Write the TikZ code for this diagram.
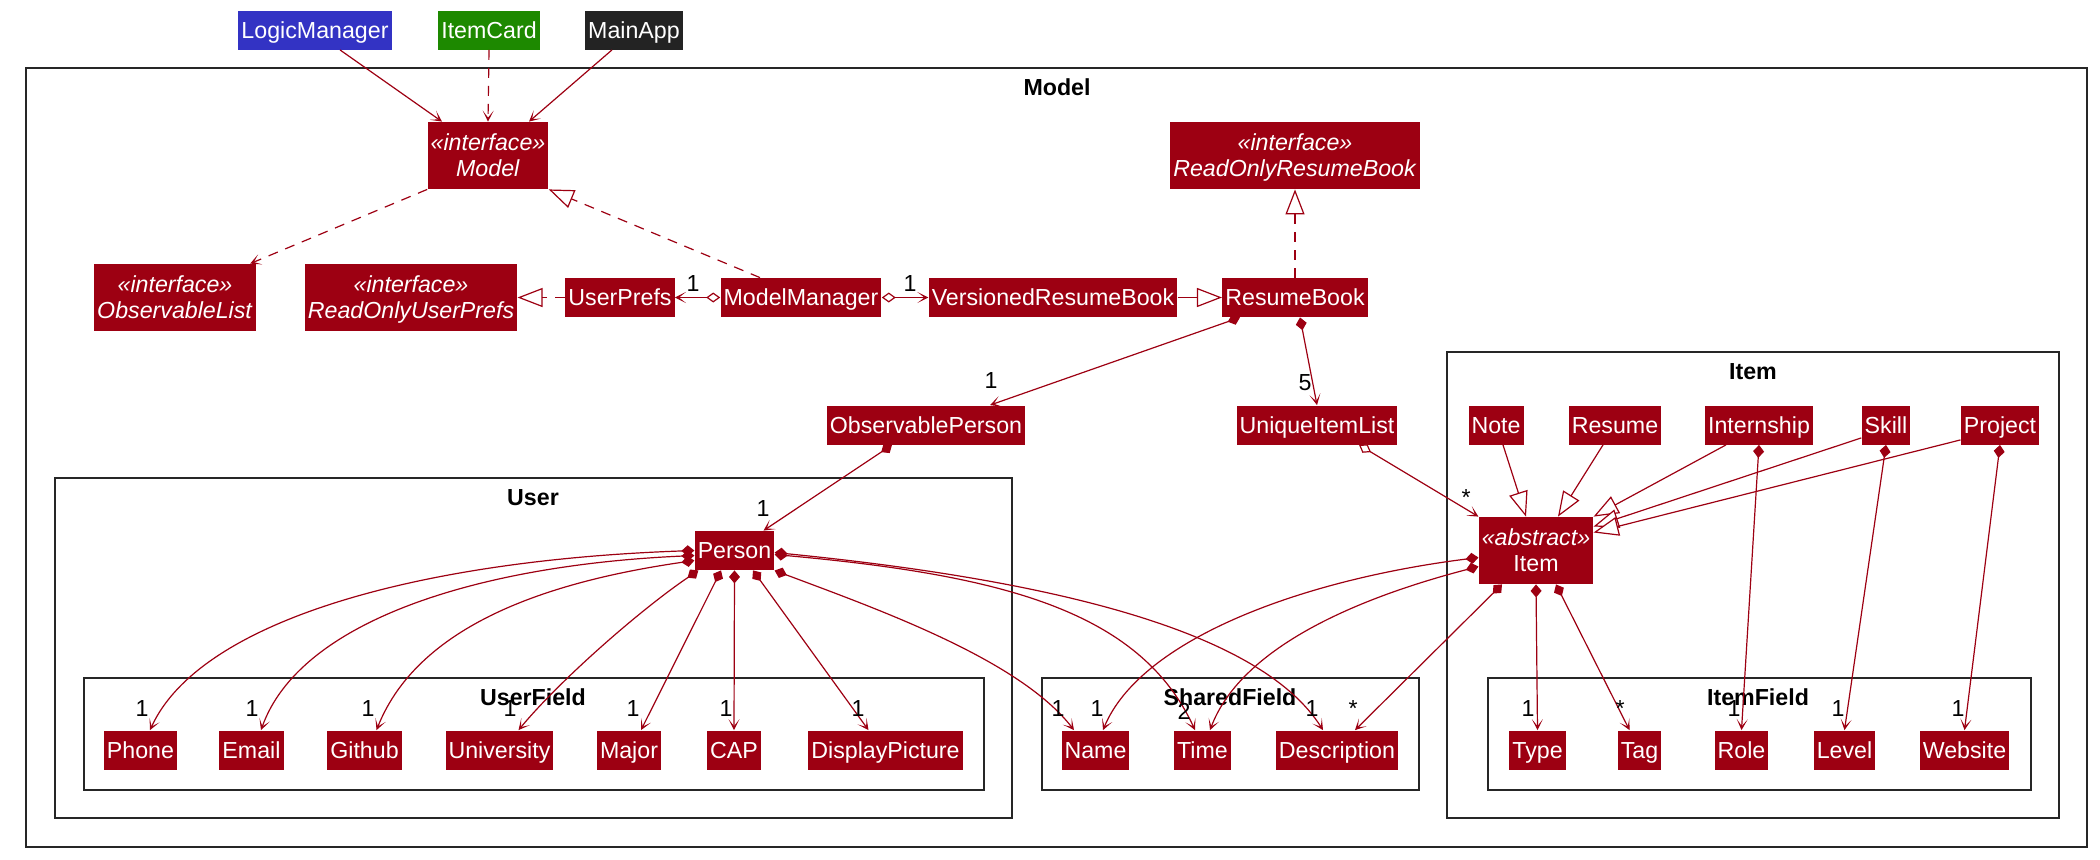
\documentclass[tikz,border=0pt]{standalone}
\usepackage{fontspec}
\setmainfont{Liberation Sans}
\usetikzlibrary{arrows.meta}
\definecolor{modelred}{HTML}{9D0012}
\definecolor{logicblue}{HTML}{3333C4}
\definecolor{uigreen}{HTML}{1D8900}
\definecolor{appgrey}{HTML}{232323}
\newcommand{\stereo}[2]{\begin{tabular}[t]{@{}c@{}}\textit{«#1»}\\#2\end{tabular}}

\begin{document}
\begin{tikzpicture}[x=0.5pt, y=-0.5pt,
    every node/.style={font=\fontsize{11.6}{13}\selectfont},
    cls/.style={fill=modelred, text=white, inner xsep=1.5pt, inner ysep=0pt, minimum height=19.5pt, text height=8.35pt, text depth=0pt},
    iface/.style={cls, minimum height=33.5pt, text depth=13pt},
    outside/.style={cls, fill=#1},
    title/.style={font=\fontsize{11.6}{13}\selectfont\bfseries, anchor=base, inner sep=0pt},
    mult/.style={anchor=base, inner sep=0pt},
    frame/.style={draw=black!85, line width=0.75pt},
    link/.style={draw=modelred, line width=0.6pt},
    assoc/.style={link, -{Stealth[length=5.5pt, width=5.5pt, inset=3.5pt]}},
    dep/.style={assoc, dash pattern=on 5pt off 4pt},
    comp/.style={link, {Diamond[length=6.5pt, width=5.5pt]}-{Stealth[length=5.5pt, width=5.5pt, inset=3.5pt]}},
    aggr/.style={link, {Diamond[open, fill=white, length=7pt, width=5pt]}-{Stealth[length=5.5pt, width=5.5pt, inset=3.5pt]}},
    inherit/.style={link, -{Triangle[open, fill=white, length=12.5pt, width=9.5pt]}},
    realize/.style={inherit, dash pattern=on 5pt off 4pt}]
    \useasboundingbox (0,0) rectangle (2100,859);

    \node[outside=logicblue] (logic) at (315,30) {LogicManager};
    \node[outside=uigreen] (itemcard) at (489,30) {ItemCard};
    \node[outside=appgrey] (mainapp) at (634,30) {MainApp};

    \draw[frame] (26,68) rectangle (2087,847);
    \node[title] (modeltitle) at (1057,95) {Model};

    \node[iface] (model) at (488,155.5) {\stereo{interface}{\textit{Model}}};
    \node[iface] (robook) at (1295,155.5) {\stereo{interface}{\textit{ReadOnlyResumeBook}}};
    \node[iface] (obslist) at (175,297.5) {\stereo{interface}{\textit{ObservableList}}};
    \node[iface] (roprefs) at (411,297.5) {\stereo{interface}{\textit{ReadOnlyUserPrefs}}};
    \node[cls] (prefs) at (620,297.5) {UserPrefs};
    \node[cls] (manager) at (801,297.5) {ModelManager};
    \node[cls] (versioned) at (1053,297.5) {VersionedResumeBook};
    \node[cls] (book) at (1295,297.5) {ResumeBook};
    \node[cls] (obsperson) at (926,425) {ObservablePerson};
    \node[cls] (itemlist) at (1317,425) {UniqueItemList};

    \draw[frame] (1447,352) rectangle (2059,818);
    \node[title] (itemtitle) at (1753,379) {Item};
    \node[cls] (note) at (1496,425) {Note};
    \node[cls] (resume) at (1615,425) {Resume};
    \node[cls] (internship) at (1759,425) {Internship};
    \node[cls] (skill) at (1886,425) {Skill};
    \node[cls] (project) at (2000,425) {Project};
    \node[iface] (item) at (1536,550.5) {\stereo{abstract}{Item}};

    \draw[frame] (1488,678) rectangle (2031,790);
    \node[title] (itemfieldtitle) at (1758,705) {ItemField};
    \node[cls] (type) at (1537.5,750) {Type};
    \node[cls] (tag) at (1639.5,750) {Tag};
    \node[cls] (role) at (1741.5,750) {Role};
    \node[cls] (level) at (1844.5,750) {Level};
    \node[cls] (website) at (1964.5,750) {Website};

    \draw[frame] (55,478) rectangle (1012,818);
    \node[title] (usertitle) at (533,505) {User};
    \node[cls] (person) at (734.5,550.5) {Person};

    \draw[frame] (84,678) rectangle (984,790);
    \node[title] (userfieldtitle) at (533,705) {UserField};
    \node[cls] (phone) at (140.5,750) {Phone};
    \node[cls] (email) at (251.5,750) {Email};
    \node[cls] (github) at (364.5,750) {Github};
    \node[cls] (univ) at (499.5,750) {University};
    \node[cls] (major) at (629,750) {Major};
    \node[cls] (cap) at (734,750) {CAP};
    \node[cls] (picture) at (885.5,750) {DisplayPicture};

    \draw[frame] (1042,678) rectangle (1419,790);
    \node[title] (sharedtitle) at (1230,705) {SharedField};
    \node[cls] (name) at (1095.5,750) {Name};
    \node[cls] (time) at (1202.5,750) {Time};
    \node[cls] (desc) at (1337,750) {Description};

    \draw[assoc] ([xshift=12.5pt]logic.south) -- ([xshift=-23pt]model.north);
    \draw[dep] (itemcard.south) -- (model.north);
    \draw[assoc] ([xshift=-11pt]mainapp.south) -- ([xshift=20.5pt]model.north);
    \draw[dep] (model.south west) -- ([xshift=-3pt]obslist.north east);
    \draw[realize] ([xshift=-20.5pt]manager.north) -- (model.south east);
    \draw[realize] (prefs.west) -- (roprefs.east);
    \draw[aggr] (manager.west) -- (prefs.east);
    \node[mult] (m1) at (693,291) {1};
    \draw[aggr] (manager.east) -- (versioned.west);
    \node[mult] (m2) at (910,291) {1};
    \draw[inherit] (versioned.east) -- (book.west);
    \draw[realize] (book.north) -- (robook.south);
    \draw[comp] ([xshift=-27.5pt]book.south) -- ([xshift=32pt]obsperson.north);
    \node[mult] (m3) at (991,388) {1};
    \draw[comp] ([xshift=2.5pt]book.south) -- (itemlist.north);
    \node[mult] (m4) at (1305,390) {5};
    \draw[aggr] ([xshift=21pt]itemlist.south) -- (item.north west);
    \node[mult] (m5) at (1466,505) {*};
    \draw[comp] ([xshift=-17pt]obsperson.south) -- ([xshift=14.5pt]person.north);
    \node[mult] (m6) at (763,516) {1};

    \draw[inherit] ([xshift=3.5pt]note.south) -- ([xshift=-5pt]item.north);
    \draw[inherit] ([xshift=-6pt]resume.south) -- ([xshift=11pt]item.north);
    \draw[inherit] ([xshift=-16.5pt]internship.south) -- (item.north east);
    \draw[inherit] ([yshift=3.5pt]skill.south west) -- ([yshift=12pt]item.east);
    \draw[inherit] ([yshift=2.5pt]project.south west) -- ([yshift=9pt]item.east);
    \draw[comp] (internship.south) -- (role.north);
    \node[mult] (m7) at (1734,716) {1};
    \draw[comp] (skill.south) -- (level.north);
    \node[mult] (m8) at (1838,716) {1};
    \draw[comp] (project.south) -- (website.north);
    \node[mult] (m9) at (1958,716) {1};
    \draw[comp] (item.south) -- (type.north);
    \node[mult] (m10) at (1528,716) {1};
    \draw[comp] ([xshift=10pt]item.south) -- ([xshift=-5pt]tag.north);
    \node[mult] (m11) at (1620,716) {*};
    \draw[comp] ([xshift=-17pt]item.south) -- ([xshift=9pt]desc.north);
    \node[mult] (m12) at (1353,716) {*};
    \draw[comp] ([yshift=-3.5pt]item.west) .. controls (1300,580) and (1140,640) .. ([xshift=3.75pt]name.north);
    \node[mult] (m13) at (1097,716) {1};
    \draw[comp] ([yshift=-8pt]item.west) .. controls (1350,600) and (1240,650) .. ([xshift=3.75pt]time.north);

    \draw[comp] (person.west) .. controls (420,560) and (200,620) .. ([xshift=4.75pt]phone.north);
    \node[mult] (m14) at (142,716) {1};
    \draw[comp] ([yshift=-2.5pt]person.west) .. controls (480,565) and (300,620) .. ([xshift=4.75pt]email.north);
    \node[mult] (m15) at (252,716) {1};
    \draw[comp] ([yshift=-5pt]person.west) .. controls (560,580) and (420,620) .. ([xshift=6pt]github.north);
    \node[mult] (m16) at (368,716) {1};
    \draw[comp] ([xshift=2pt]person.south west) .. controls (640,610) and (560,680) .. ([xshift=9.5pt]univ.north);
    \node[mult] (m17) at (510,716) {1};
    \draw[comp] ([xshift=-6.75pt]person.south) -- ([xshift=6pt]major.north);
    \node[mult] (m18) at (633,716) {1};
    \draw[comp] (person.south) -- (cap.north);
    \node[mult] (m19) at (726,716) {1};
    \draw[comp] ([xshift=9.25pt]person.south) -- ([xshift=-8.5pt]picture.north);
    \node[mult] (m20) at (858,716) {1};
    \draw[comp] ([yshift=-10pt]person.east) .. controls (880,610) and (1020,660) .. ([xshift=-10.75pt]name.north);
    \node[mult] (m21) at (1058,716) {1};
    \draw[comp] ([yshift=-2pt]person.east) .. controls (1000,575) and (1140,610) .. ([xshift=-3.75pt]time.north);
    \node[mult] (m22) at (1184,719) {2};
    \draw[comp] ([yshift=-1pt]person.east) .. controls (1050,580) and (1260,630) .. ([xshift=-7pt]desc.north);
    \node[mult] (m23) at (1312,716) {1};
\end{tikzpicture}
\end{document}
